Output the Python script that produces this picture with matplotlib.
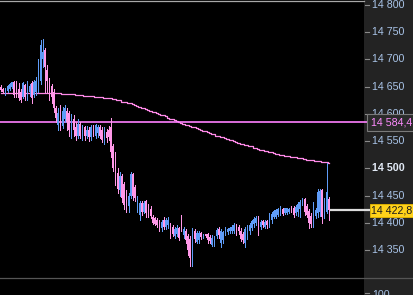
import matplotlib
matplotlib.use("Agg")
import matplotlib.pyplot as plt
from matplotlib.patches import Rectangle
from matplotlib.lines import Line2D
import matplotlib.transforms as mtransforms
import numpy as np

plt.rcParams['font.family'] = ['Liberation Sans', 'DejaVu Sans']

# ---------------- data ----------------
opens = [14648, 14645, 14638, 14642, 14646, 14650, 14657, 14652, 14645, 14640,
         14630, 14652, 14630, 14640, 14655, 14635, 14640, 14650, 14660, 14700,
         14717, 14680, 14660, 14650, 14640, 14610, 14580, 14605, 14578, 14590,
         14605, 14600, 14565, 14590, 14575, 14560, 14580, 14558, 14575, 14560,
         14570, 14558, 14575, 14560, 14565, 14575, 14570, 14552, 14565, 14570,
         14575, 14540, 14520, 14490, 14460, 14485, 14470, 14450, 14430, 14450,
         14488, 14465, 14430, 14415, 14435, 14420, 14440, 14430, 14425, 14410,
         14408, 14405, 14402, 14390, 14405, 14392, 14395, 14395, 14392, 14375,
         14380, 14390, 14390, 14378, 14385, 14375, 14370, 14340, 14385, 14365,
         14368, 14380, 14375, 14378, 14378, 14374, 14360, 14362, 14375, 14388,
         14362, 14368, 14380, 14383, 14385, 14385, 14385, 14395, 14392, 14385,
         14378, 14362, 14375, 14385, 14390, 14398, 14400, 14408, 14392, 14402,
         14392, 14402, 14395, 14405, 14410, 14410, 14415, 14418, 14425, 14418,
         14418, 14420, 14428, 14426, 14418, 14420, 14425, 14435, 14442, 14430,
         14420, 14412, 14400, 14412, 14418, 14420, 14460, 14412, 14420, 14442]
highs = [14652, 14647, 14648, 14652, 14656, 14659, 14660, 14660, 14657, 14645,
         14658, 14655, 14660, 14654, 14660, 14662, 14668, 14700, 14735, 14738,
         14720, 14690, 14665, 14655, 14645, 14614, 14610, 14616, 14612, 14616,
         14610, 14605, 14600, 14598, 14585, 14590, 14585, 14580, 14578, 14578,
         14575, 14580, 14580, 14582, 14580, 14580, 14575, 14575, 14572, 14578,
         14592, 14545, 14530, 14500, 14493, 14490, 14475, 14460, 14455, 14493,
         14492, 14470, 14450, 14440, 14440, 14440, 14442, 14435, 14430, 14415,
         14410, 14408, 14405, 14405, 14410, 14408, 14410, 14400, 14395, 14392,
         14395, 14392, 14414, 14392, 14388, 14380, 14375, 14390, 14388, 14385,
         14385, 14383, 14380, 14380, 14382, 14378, 14378, 14376, 14390, 14392,
         14388, 14385, 14392, 14390, 14392, 14395, 14400, 14398, 14395, 14390,
         14383, 14392, 14396, 14400, 14405, 14410, 14412, 14412, 14405, 14405,
         14405, 14405, 14418, 14420, 14423, 14425, 14428, 14430, 14428, 14428,
         14428, 14428, 14430, 14430, 14432, 14438, 14442, 14445, 14446, 14435,
         14425, 14418, 14438, 14428, 14462, 14462, 14462, 14445, 14510, 14448]
lows = [14641, 14638, 14635, 14640, 14643, 14647, 14630, 14630, 14625, 14622,
        14628, 14625, 14625, 14632, 14620, 14630, 14635, 14640, 14655, 14686,
        14640, 14640, 14625, 14620, 14603, 14585, 14570, 14570, 14574, 14585,
        14570, 14560, 14555, 14560, 14552, 14555, 14555, 14552, 14552, 14555,
        14550, 14552, 14560, 14555, 14558, 14555, 14548, 14545, 14548, 14552,
        14520, 14495, 14470, 14455, 14450, 14438, 14425, 14420, 14420, 14445,
        14442, 14440, 14420, 14405, 14415, 14418, 14410, 14410, 14408, 14398,
        14396, 14392, 14385, 14385, 14388, 14388, 14390, 14372, 14375, 14372,
        14375, 14368, 14385, 14372, 14363, 14340, 14320, 14320, 14365, 14362,
        14363, 14370, 14372, 14374, 14363, 14362, 14358, 14358, 14372, 14372,
        14356, 14362, 14378, 14380, 14382, 14382, 14382, 14378, 14380, 14366,
        14362, 14355, 14370, 14380, 14386, 14392, 14396, 14378, 14388, 14392,
        14390, 14390, 14392, 14400, 14408, 14408, 14412, 14414, 14414, 14416,
        14416, 14418, 14420, 14410, 14415, 14412, 14410, 14432, 14415, 14410,
        14390, 14392, 14392, 14408, 14410, 14412, 14400, 14408, 14418, 14405]
closes = [14643, 14640, 14645, 14650, 14654, 14657, 14635, 14640, 14628, 14626,
          14655, 14630, 14652, 14650, 14628, 14658, 14660, 14690, 14725, 14712,
          14685, 14660, 14630, 14630, 14610, 14592, 14600, 14578, 14605, 14610,
          14585, 14570, 14590, 14570, 14560, 14580, 14560, 14575, 14560, 14570,
          14558, 14575, 14565, 14578, 14575, 14560, 14552, 14568, 14555, 14558,
          14530, 14500, 14478, 14462, 14485, 14445, 14432, 14428, 14448, 14488,
          14450, 14445, 14445, 14435, 14420, 14435, 14418, 14415, 14412, 14400,
          14398, 14395, 14390, 14400, 14392, 14405, 14405, 14378, 14380, 14388,
          14390, 14372, 14387, 14388, 14368, 14350, 14335, 14385, 14370, 14380,
          14380, 14374, 14378, 14376, 14368, 14366, 14372, 14374, 14386, 14378,
          14385, 14382, 14390, 14388, 14390, 14392, 14395, 14382, 14384, 14370,
          14368, 14388, 14392, 14396, 14402, 14406, 14408, 14386, 14400, 14396,
          14400, 14395, 14414, 14416, 14420, 14422, 14424, 14426, 14416, 14426,
          14426, 14425, 14422, 14414, 14428, 14434, 14438, 14442, 14420, 14415,
          14400, 14398, 14430, 14422, 14455, 14458, 14410, 14425, 14455, 14422.8]
ma = [14638] * 28 + [14637] * 6 + [14635] * 4 + [14633] * 5 + [14631] * 4 + \
     [14629] * 4 + [14627] * 2 + [14625] * 2 + [14622] * 3 + [14620] * 2 + \
     [14618, 14616, 14615, 14613, 14611, 14610, 14608, 14607, 14605, 14604,
      14603, 14602, 14600, 14598, 14597, 14595, 14593, 14591, 14590, 14588,
      14586, 14585, 14583, 14582, 14580, 14579, 14578, 14576, 14575, 14574,
      14572, 14571, 14569, 14568, 14566, 14565, 14563, 14562, 14560, 14559,
      14558, 14557, 14555, 14554, 14552, 14551, 14550, 14548, 14547, 14545,
      14544, 14543, 14542, 14541, 14540, 14538, 14537, 14536, 14534, 14533,
      14532, 14531, 14530, 14529, 14528, 14527, 14526, 14525, 14524, 14523,
      14523, 14522, 14521, 14521, 14520, 14519, 14519, 14518, 14517, 14516,
      14516, 14515, 14515, 14514, 14514, 14513, 14512, 14512, 14511, 14510]
level = 14584.4
tick_values = [14350, 14400, 14450, 14500, 14550, 14600, 14650, 14700, 14750, 14800]
tick_labels = ["14 350", "14 400", "14 450", "14 500", "14 550", "14 600",
               "14 650", "14 700", "14 750", "14 800"]
level_label = "14 584,4"
last_label = "14 422,8"
sub_label = "100"

# ---------------- figure ----------------
W, H = 414, 295
fig = plt.figure(figsize=(W / 100, H / 100), dpi=100, facecolor='black')

plot_w = 364
plot_bottom = 277
ymin, ymax = 14300.5, 14808.7

ax = fig.add_axes([0, (H - plot_bottom) / H, plot_w / W, plot_bottom / H])
ax.set_facecolor('black')
for s in ax.spines.values():
    s.set_visible(False)
ax.set_xticks([])
ax.set_yticks([])

n = len(closes)
x = np.arange(n)
ax.set_xlim(-1 / 2.2, (plot_w - 1) / 2.2)
ax.set_ylim(ymin, ymax)

blue = '#5f9cf7'
pink = '#ff98e8'
o = np.array(opens); h = np.array(highs); l = np.array(lows); c = np.array(closes)
up = c >= o
cols = np.where(up, blue, pink)
ax.vlines(x, l, h, colors=cols, lw=0.72, zorder=3, antialiased=False)
ax.bar(x, np.abs(c - o) + 0.8, bottom=np.minimum(o, c), width=0.8,
       color=cols, linewidth=0, zorder=3, antialiased=False)

ax.plot(x, ma, drawstyle='steps-mid', color='#ff8ae8', lw=0.9, zorder=2)
ax.axhline(level, color='#ff80ff', lw=1.2, zorder=2)
ax.hlines(closes[-1], n - 0.5, (plot_w - 1) / 2.2, color='#dcdcdc', lw=1.6, zorder=2)

# right price axis
ax2 = fig.add_axes([plot_w / W, (H - plot_bottom) / H, (W - plot_w) / W, plot_bottom / H])
ax2.set_facecolor('#232323')
for s in ax2.spines.values():
    s.set_visible(False)
ax2.set_xticks([]); ax2.set_yticks([])
ax2.set_xlim(0, 1); ax2.set_ylim(ymin, ymax)
aw = W - plot_w
fs = 7.7
tr = mtransforms.blended_transform_factory(ax2.transAxes, ax2.transData)
for v, lab in zip(tick_values, tick_labels):
    ax2.plot([1 / aw, 5 / aw], [v, v], transform=tr, color='#8a8a8a', lw=0.8, clip_on=False)
    bold = lab == "14 500"
    ax2.text(8 / aw, v, lab, transform=tr, va='center', ha='left', fontsize=fs,
             color='#e2eaf6' if bold else '#a9c4e8',
             fontweight='bold' if bold else 'normal', clip_on=False, zorder=2)

ppu = plot_bottom / (ymax - ymin)
# level label box
ax2.plot([0, 3 / aw], [level, level], transform=tr, color='#ff80ff', lw=1.2)
hb = 17 / ppu
ax2.add_patch(Rectangle((3 / aw, level - hb / 2), 1, hb, transform=tr,
                        facecolor='#2b2b2b', edgecolor='#7a7a7a', lw=0.8, zorder=5))
ax2.text(7.5 / aw, level, level_label, transform=tr, va='center', ha='left',
         fontsize=fs, color='#ff8cff', zorder=6)
# last price label box
ax2.plot([0, 5 / aw], [closes[-1], closes[-1]], transform=tr, color='#dcdcdc', lw=1.6)
hy = 13 / ppu
ax2.add_patch(Rectangle((6 / aw, closes[-1] - hy / 2), 1, hy, transform=tr,
                        facecolor='#ffd21a', edgecolor='#e6b800', lw=0.6, zorder=5))
ax2.text(7.5 / aw, closes[-1], last_label, transform=tr, va='center', ha='left',
         fontsize=fs, color='#1a1a1a', zorder=6)

# bottom sub-panel
fig.add_artist(Rectangle((plot_w / W, 0), (W - plot_w) / W, (H - plot_bottom) / H,
                         transform=fig.transFigure, facecolor='#232323', edgecolor='none'))
fig.add_artist(Line2D([0, 1], [(H - plot_bottom - 0.5) / H] * 2, color='#555555', lw=0.9))
fig.add_artist(Line2D([(plot_w + 1) / W, (plot_w + 5) / W], [2 / H, 2 / H], color='#8a8a8a', lw=0.8))
fig.text((plot_w + 8) / W, 0.0, sub_label, va='center', ha='left', fontsize=fs, color='#a9c4e8')
# top separator
fig.add_artist(Line2D([0, plot_w / W], [(H - 1.2) / H] * 2, color='#a8a8a8', lw=0.9))

fig.savefig('out.png', dpi=100, facecolor='black')
